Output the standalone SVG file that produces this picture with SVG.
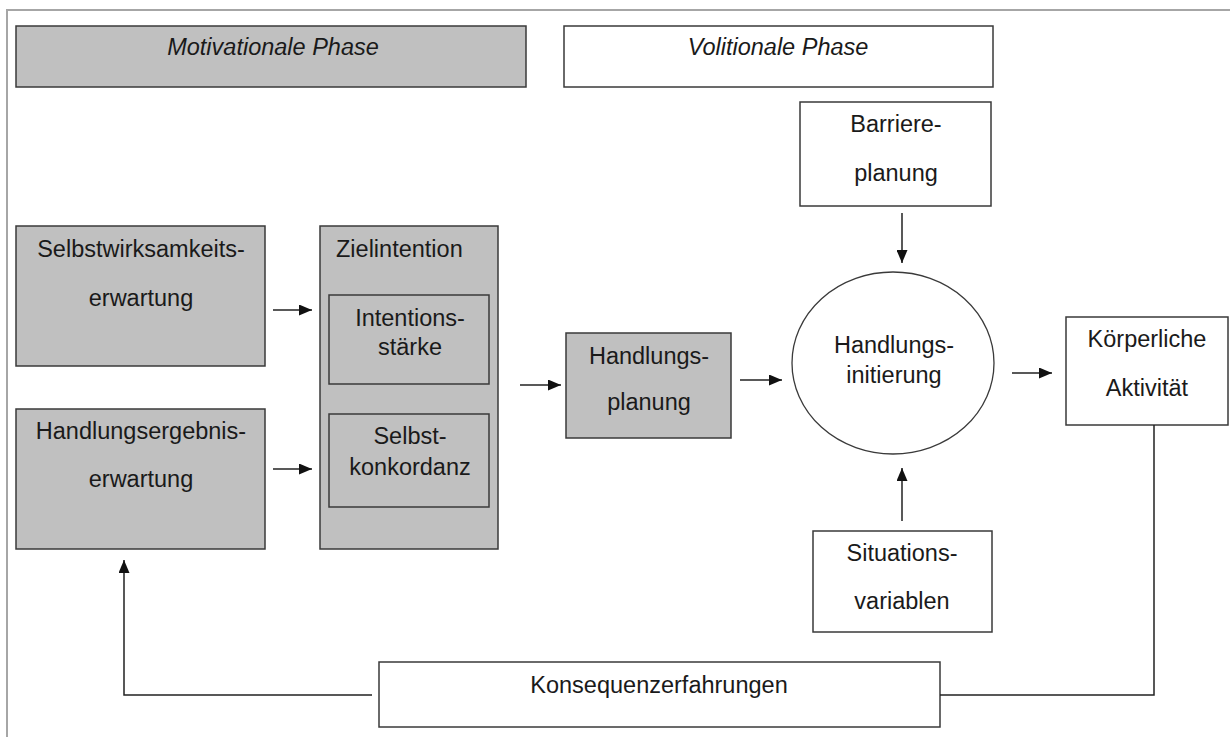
<svg xmlns="http://www.w3.org/2000/svg" width="1230" height="737" viewBox="0 0 1230 737">
<defs>
<marker id="ah" viewBox="0 0 13 11" refX="13" refY="5.5" markerWidth="13" markerHeight="11" markerUnits="userSpaceOnUse" orient="auto">
<path d="M0,0 L13,5.5 L0,11 Z" fill="#111"/>
</marker>
<style>
.g{fill:#c0c0c0;stroke:#3a3a3a;stroke-width:1.5}
.w{fill:#fff;stroke:#3a3a3a;stroke-width:1.5}
text{font-family:"Liberation Sans",Arial,sans-serif;font-size:23.5px;fill:#1a1a1a;text-anchor:middle}
.it{font-style:italic}
.l{text-anchor:start}
.c{fill:none;stroke:#222;stroke-width:1.5}
</style>
</defs>
<rect width="1230" height="737" fill="#fff"/>
<path d="M7,737 V10 H1230" fill="none" stroke="#a6a6a6" stroke-width="2"/>

<g id="motivationale-phase"><rect class="g" x="16" y="26" width="510" height="61"/><text class="it" x="273" y="55">Motivationale Phase</text></g>
<g id="volitionale-phase"><rect class="w" x="564" y="26" width="429" height="61"/><text class="it" x="778" y="55">Volitionale Phase</text></g>
<g id="selbstwirksamkeit"><rect class="g" x="16" y="226" width="249" height="140"/><text x="141" y="257">Selbstwirksamkeits-</text><text x="141" y="306">erwartung</text></g>
<g id="handlungsergebnis"><rect class="g" x="16" y="409" width="249" height="140"/><text x="141" y="439">Handlungsergebnis-</text><text x="141" y="487">erwartung</text></g>
<g id="zielintention"><rect class="g" x="320" y="226" width="178" height="323"/><text class="l" x="336" y="257">Zielintention</text>
<g id="intentionsstaerke"><rect class="g" x="329" y="295" width="160" height="89"/><text x="410" y="326">Intentions-</text><text x="410" y="355">stärke</text></g>
<g id="selbstkonkordanz"><rect class="g" x="329" y="414" width="160" height="93"/><text x="410" y="444">Selbst-</text><text x="410" y="475">konkordanz</text></g>
</g>
<g id="handlungsplanung"><rect class="g" x="566" y="333" width="165" height="105"/><text x="649" y="364">Handlungs-</text><text x="649" y="410">planung</text></g>
<g id="barriereplanung"><rect class="w" x="800" y="102" width="191" height="104"/><text x="896" y="132">Barriere-</text><text x="896" y="181">planung</text></g>
<g id="handlungsinitiierung"><ellipse cx="893" cy="363" rx="101" ry="91" fill="#fff" stroke="#3a3a3a" stroke-width="1.3"/><text x="894" y="353">Handlungs-</text><text x="894" y="383">initierung</text></g>
<g id="koerperliche-aktivitaet"><rect class="w" x="1066" y="317" width="162" height="108"/><text x="1147" y="347">Körperliche</text><text x="1147" y="396">Aktivität</text></g>
<g id="situationsvariablen"><rect class="w" x="813" y="531" width="179" height="101"/><text x="902" y="561">Situations-</text><text x="902" y="609">variablen</text></g>
<g id="konsequenzerfahrungen"><rect class="w" x="379" y="662" width="561" height="65"/><text x="659" y="693">Konsequenzerfahrungen</text></g>

<g id="connectors">
<line class="c" x1="273" y1="310" x2="312" y2="310" marker-end="url(#ah)"/>
<line class="c" x1="273" y1="469" x2="312" y2="469" marker-end="url(#ah)"/>
<line class="c" x1="520" y1="385" x2="561" y2="385" marker-end="url(#ah)"/>
<line class="c" x1="740" y1="380" x2="782" y2="380" marker-end="url(#ah)"/>
<line class="c" x1="1012" y1="373" x2="1052" y2="373" marker-end="url(#ah)"/>
<line class="c" x1="902" y1="213" x2="902" y2="263" marker-end="url(#ah)"/>
<line class="c" x1="902" y1="521" x2="902" y2="468" marker-end="url(#ah)"/>
<polyline class="c" points="1154,425 1154,695 940,695"/>
<polyline class="c" points="372,695 124,695 124,560" marker-end="url(#ah)"/>
</g>
</svg>
